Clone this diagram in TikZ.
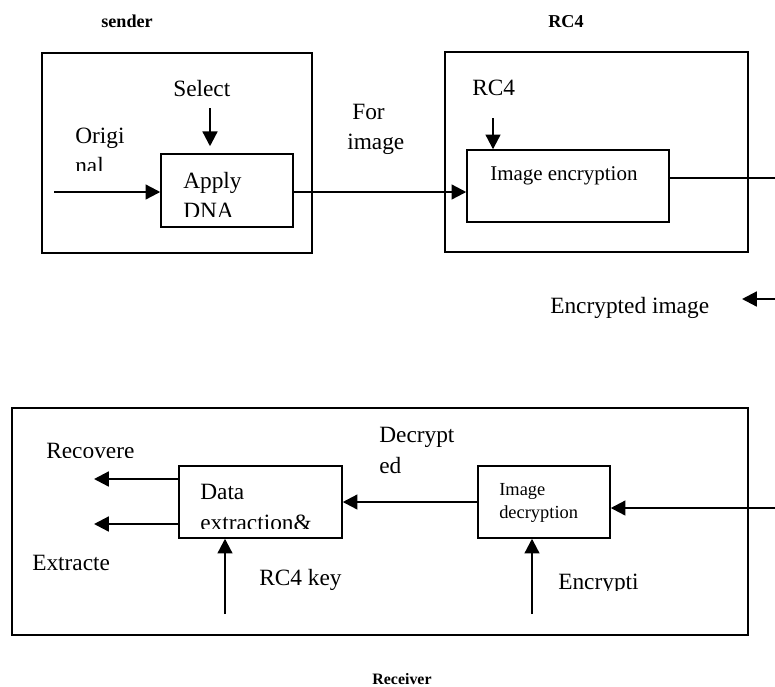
\documentclass[tikz,border=0pt]{standalone}
\usepackage{fontspec}
\setmainfont{Liberation Serif}
\usetikzlibrary{arrows.meta, positioning}

\begin{document}
\begin{tikzpicture}[x=0.025cm, y=-0.025cm,
    frame/.style={draw, line width=1pt, inner sep=0pt},
    block/.style={draw, line width=1pt, inner sep=0pt},
    lbl/.style={inner sep=0pt, anchor=base west, font=\fontsize{16.6}{20}\selectfont},
    small/.style={inner sep=0pt, anchor=base west, font=\fontsize{13.1}{16}\selectfont},
    head/.style={inner sep=0pt, anchor=base, font=\fontsize{12.9}{15}\selectfont\bfseries},
    arrow/.style={-{Triangle[length=10.5pt, width=10.5pt]}, line width=1.6pt},
    wire/.style={line width=1.6pt}
]
    \useasboundingbox (0,0) rectangle (775,686);

    % sender side
    \node[head] (sendhead) at (127,27) {sender};
    \node[frame, minimum width=6.75cm, minimum height=5cm] (sendbox) at (177,153) {};
    \node[block, minimum width=3.3cm, minimum height=1.825cm] (dna) at (227,190.5) {};
    \node[lbl] (select) at (173,96) {Select};
    \node[lbl] (orig) at (75,143) {Origi};
    \begin{scope}
        \clip (0,0) rectangle (775,170);
        \node[lbl] (orig2) at (75,173) {nal};
    \end{scope}
    \node[lbl] (apply) at (183,188) {Apply};
    \begin{scope}
        \clip (0,0) rectangle (775,216);
        \node[lbl] (apply2) at (183,218) {DNA};
    \end{scope}
    \node[lbl] (for) at (352,119) {For};
    \node[lbl] (for2) at (347,149) {image};

    % RC4 side
    \node[head] (rchead) at (566,27) {RC4};
    \node[frame, minimum width=7.575cm, minimum height=5cm] (rcbox) at (596.5,152) {};
    \node[block, minimum width=5.05cm, minimum height=1.8cm] (enc) at (568,186) {};
    \node[lbl] (rckey) at (472,95) {RC4};
    \node[inner sep=0pt, anchor=base west, font=\fontsize{14.9}{18}\selectfont] (enctext) at (490,180) {Image encryption};
    \node[lbl] (encimg) at (550,313) {Encrypted image};

    % receiver side
    \node[frame, minimum width=18.4cm, minimum height=5.675cm] (recvbox) at (380,521.5) {};
    \node[block, minimum width=4.075cm, minimum height=1.8cm] (extr) at (260.5,502) {};
    \node[block, minimum width=3.3cm, minimum height=1.8cm] (dec) at (544,502) {};
    \node[lbl] (data) at (200,499) {Data};
    \begin{scope}
        \clip (0,0) rectangle (775,528);
        \node[lbl] (data2) at (200,530) {extraction\&};
    \end{scope}
    \begin{scope}
        \clip (0,0) rectangle (775,457);
        \node[lbl] (recov) at (46,458) {Recovere};
    \end{scope}
    \node[lbl] (extracted) at (32,570) {Extracte};
    \node[lbl] (rc4key) at (259,585) {RC4 key};
    \node[lbl] (decr) at (379,442) {Decrypt};
    \node[lbl] (decr2) at (379,473) {ed};
    \node[small] (dectext) at (499,495) {Image};
    \node[small] (dectext2) at (499,518) {decryption};
    \begin{scope}
        \clip (0,0) rectangle (775,590);
        \node[lbl] (encr) at (558,589) {Encrypti};
    \end{scope}
    \node[head, font=\fontsize{11.3}{13}\selectfont\bfseries] (recvhead) at (402,684) {Receiver};

    % free ends
    \coordinate (origin) at (54,192);
    \coordinate (selin) at (210,108);
    \coordinate (rcin) at (493,118);
    \coordinate (encout) at (775,178);
    \coordinate (imgin) at (775,299);
    \coordinate (imgtip) at (742,299);
    \coordinate (decin) at (775,508);
    \coordinate (encin) at (532,614);
    \coordinate (keyin) at (225,614);
    \coordinate (recout) at (94,479);
    \coordinate (extout) at (94,524);

    \draw[arrow] (origin) -- (origin -| dna.west);
    \draw[arrow, shorten >=5pt] (selin) -- (selin |- dna.north);
    \draw[arrow] (dna.east |- origin) -- (origin -| enc.west);
    \draw[arrow] (rcin) -- (rcin |- enc.north);
    \draw[line width=0.9pt] (enc.east |- encout) -- (encout);
    \draw[arrow] (imgin) -- (imgtip);

    \draw[arrow] (decin) -- (decin -| dec.east);
    \draw[arrow] (dec.west) -- (extr.east);
    \draw[arrow] (encin) -- (encin |- dec.south);
    \draw[arrow] (keyin) -- (keyin |- extr.south);
    \draw[arrow] (recout -| extr.west) -- (recout);
    \draw[arrow] (extout -| extr.west) -- (extout);
\end{tikzpicture}
\end{document}
